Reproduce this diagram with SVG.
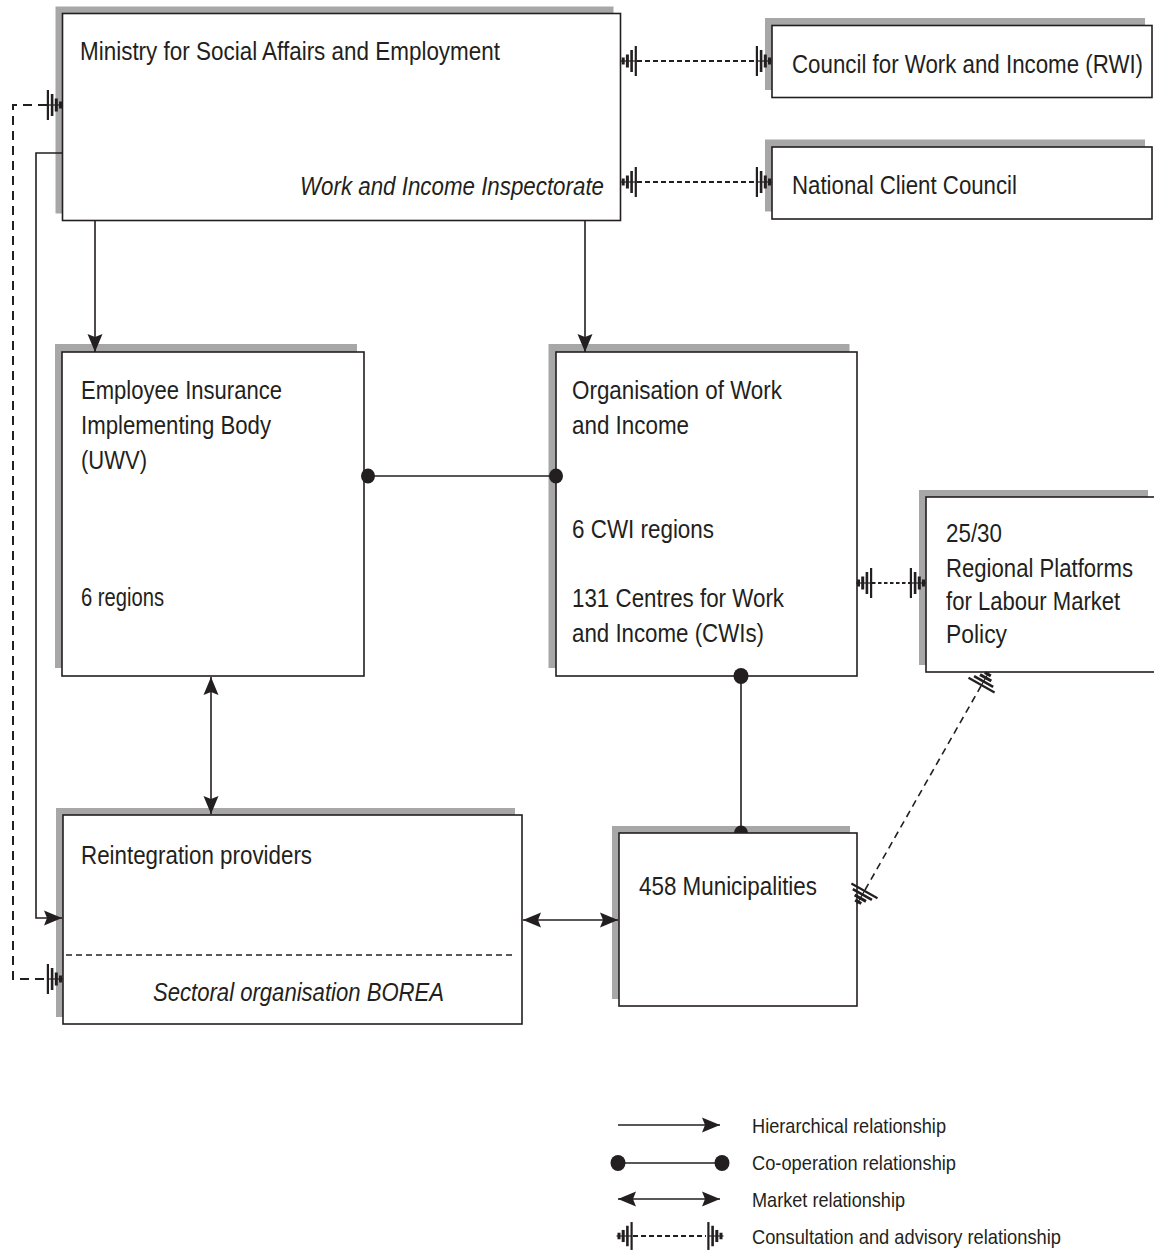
<svg xmlns="http://www.w3.org/2000/svg" xmlns:xlink="http://www.w3.org/1999/xlink" width="1154" height="1252" viewBox="0 0 1154 1252">
<style>
.shadow{fill:#a7a7a7;stroke:none}
.box{fill:#fff;stroke:#231f20;stroke-width:1.6}
.t{font-family:"Liberation Sans Narrow","Liberation Sans",Arial,sans-serif;font-size:26px;fill:#231f20}
.it{font-style:italic}
.lg{font-family:"Liberation Sans Narrow","Liberation Sans",Arial,sans-serif;font-size:21px;fill:#231f20}
.ln{fill:none;stroke:#231f20;stroke-width:1.6}
.dash{fill:none;stroke:#231f20;stroke-width:1.8;stroke-dasharray:5 3}
.dashL{fill:none;stroke:#231f20;stroke-width:2;stroke-dasharray:9 6}
.dashD{fill:none;stroke:#231f20;stroke-width:1.6;stroke-dasharray:7 5}
.dashS{fill:none;stroke:#231f20;stroke-width:1.8;stroke-dasharray:3.5 2.5}
.dashB{fill:none;stroke:#231f20;stroke-width:1.3;stroke-dasharray:6 4}
.dot{fill:#231f20}
</style>
<defs>
<marker id="arr" markerUnits="userSpaceOnUse" markerWidth="20" markerHeight="16" viewBox="-19 -8 20 16" refX="0" refY="0" orient="auto-start-reverse">
<path d="M0,0 L-18,-7.5 L-15,0 L-18,7.5 Z" fill="#231f20"/>
</marker>
<g id="cm" fill="#231f20">
<rect x="0" y="-0.6" width="15" height="1.2"/>
<rect x="1" y="-3.5" width="3" height="7"/>
<rect x="5.2" y="-6.5" width="3" height="13"/>
<rect x="9.6" y="-11" width="2.6" height="22"/>
<rect x="14" y="-15" width="2.2" height="30"/>
</g>
</defs>

<g id="ministry">
<rect class="shadow" x="55.5" y="6.5" width="558" height="207"/>
<rect class="box" x="62.5" y="13.5" width="558" height="207"/>
<text class="t" x="80" y="60" textLength="420" lengthAdjust="spacingAndGlyphs">Ministry for Social Affairs and Employment</text>
<text class="t it" x="300" y="195" textLength="304" lengthAdjust="spacingAndGlyphs">Work and Income Inspectorate</text>
</g>

<g id="rwi">
<rect class="shadow" x="765" y="18" width="380" height="72"/>
<rect class="box" x="772" y="25.5" width="380" height="72"/>
<text class="t" transform="translate(792,73) scale(0.85,1)" x="0" y="0" textLength="413" lengthAdjust="spacingAndGlyphs">Council for Work and Income (RWI)</text>
</g>

<g id="ncc">
<rect class="shadow" x="765" y="139.5" width="380" height="72"/>
<rect class="box" x="772" y="147" width="380" height="72"/>
<text class="t" x="792" y="194" textLength="225" lengthAdjust="spacingAndGlyphs">National Client Council</text>
</g>

<g id="uwv">
<rect class="shadow" x="55" y="344" width="302" height="324"/>
<rect class="box" x="62" y="352" width="302" height="324"/>
<text class="t" x="81" y="399" textLength="201" lengthAdjust="spacingAndGlyphs">Employee Insurance</text>
<text class="t" x="81" y="434" textLength="190" lengthAdjust="spacingAndGlyphs">Implementing Body</text>
<text class="t" x="81" y="469" textLength="66" lengthAdjust="spacingAndGlyphs">(UWV)</text>
<text class="t" x="81" y="606" textLength="83" lengthAdjust="spacingAndGlyphs">6 regions</text>
</g>

<g id="cwi">
<rect class="shadow" x="548.5" y="344" width="301" height="324"/>
<rect class="box" x="556" y="352" width="301" height="324"/>
<text class="t" x="572" y="399" textLength="210" lengthAdjust="spacingAndGlyphs">Organisation of Work</text>
<text class="t" x="572" y="434" textLength="117" lengthAdjust="spacingAndGlyphs">and Income</text>
<text class="t" x="572" y="538" textLength="142" lengthAdjust="spacingAndGlyphs">6 CWI regions</text>
<text class="t" x="572" y="607" textLength="212" lengthAdjust="spacingAndGlyphs">131 Centres for Work</text>
<text class="t" x="572" y="642" textLength="192" lengthAdjust="spacingAndGlyphs">and Income (CWIs)</text>
</g>

<g id="platforms">
<rect class="shadow" x="919" y="490" width="229" height="175"/>
<rect class="box" x="926" y="497" width="230" height="175"/>
<text class="t" x="946" y="542" textLength="56" lengthAdjust="spacingAndGlyphs">25/30</text>
<text class="t" transform="translate(946,577) scale(0.85,1)" x="0" y="0" textLength="220" lengthAdjust="spacingAndGlyphs">Regional Platforms</text>
<text class="t" transform="translate(946,610) scale(0.85,1)" x="0" y="0" textLength="205" lengthAdjust="spacingAndGlyphs">for Labour Market</text>
<text class="t" x="946" y="643" textLength="61" lengthAdjust="spacingAndGlyphs">Policy</text>
</g>

<g id="reintegration">
<rect class="shadow" x="56" y="808" width="459" height="209"/>
<rect class="box" x="63" y="815" width="459" height="209"/>
<text class="t" x="81" y="864" textLength="231" lengthAdjust="spacingAndGlyphs">Reintegration providers</text>
<line class="dashB" x1="66" y1="955" x2="515" y2="955"/>
<text class="t it" x="153" y="1001" textLength="291" lengthAdjust="spacingAndGlyphs">Sectoral organisation BOREA</text>
</g>

<g id="municipalities">
<rect class="shadow" x="612" y="826" width="238" height="173"/>
<rect class="box" x="619" y="833" width="238" height="173"/>
<text class="t" x="639" y="895" textLength="178" lengthAdjust="spacingAndGlyphs">458 Municipalities</text>
</g>

<g id="connectors">
<line class="ln" x1="95" y1="221" x2="95" y2="352" marker-end="url(#arr)"/>
<line class="ln" x1="585" y1="221" x2="585" y2="352" marker-end="url(#arr)"/>
<path class="ln" d="M63,153 H36 V918 H62" marker-end="url(#arr)"/>
<line class="ln" x1="211" y1="677" x2="211" y2="814" marker-start="url(#arr)" marker-end="url(#arr)"/>
<line class="ln" x1="523" y1="920" x2="618" y2="920" marker-start="url(#arr)" marker-end="url(#arr)"/>
<line class="ln" x1="366" y1="476" x2="556" y2="476"/>
<ellipse class="dot" cx="368" cy="476" rx="7" ry="7.5"/>
<ellipse class="dot" cx="556" cy="476" rx="7" ry="7.5"/>
<line class="ln" x1="741" y1="676" x2="741" y2="833"/>
<ellipse class="dot" cx="741" cy="676" rx="7.5" ry="8"/>
<path class="dot" d="M734,833 A7,7.5 0 0 1 748,833 Z"/>
<line class="dash" x1="637" y1="61" x2="755" y2="61"/>
<use xlink:href="#cm" transform="translate(620.7,61)"/>
<use xlink:href="#cm" transform="translate(772,61) scale(-1,1)"/>
<line class="dash" x1="637" y1="182" x2="755" y2="182"/>
<use xlink:href="#cm" transform="translate(620.7,182)"/>
<use xlink:href="#cm" transform="translate(772,182) scale(-1,1)"/>
<path class="dashL" d="M47,105 H13 V979 H47"/>
<use xlink:href="#cm" transform="translate(63,105) scale(-1,1)"/>
<use xlink:href="#cm" transform="translate(63,979) scale(-1,1)"/>
<line class="dashS" x1="872" y1="583" x2="910" y2="583"/>
<use xlink:href="#cm" transform="translate(856,583)"/>
<use xlink:href="#cm" transform="translate(926,583) scale(-1,1)"/>
<line class="dashD" x1="865" y1="890" x2="981" y2="686"/>
<use xlink:href="#cm" transform="translate(989,672) rotate(119.6)"/>
<use xlink:href="#cm" transform="translate(857,904) rotate(-60.4)"/>
</g>

<g id="legend">
<line class="ln" x1="618" y1="1125" x2="720" y2="1125" marker-end="url(#arr)"/>
<text class="lg" x="752" y="1133" textLength="194" lengthAdjust="spacingAndGlyphs">Hierarchical relationship</text>
<line class="ln" x1="618" y1="1163" x2="722" y2="1163"/>
<ellipse class="dot" cx="618" cy="1163" rx="7.5" ry="8"/>
<ellipse class="dot" cx="722" cy="1163" rx="7.5" ry="8"/>
<text class="lg" x="752" y="1170" textLength="204" lengthAdjust="spacingAndGlyphs">Co-operation relationship</text>
<line class="ln" x1="618" y1="1199" x2="720" y2="1199" marker-start="url(#arr)" marker-end="url(#arr)"/>
<text class="lg" x="752" y="1207" textLength="153" lengthAdjust="spacingAndGlyphs">Market relationship</text>
<line class="dash" x1="633" y1="1236" x2="706" y2="1236"/>
<use xlink:href="#cm" transform="translate(616.5,1236) scale(1,0.93)"/>
<use xlink:href="#cm" transform="translate(723.5,1236) scale(-1,0.93)"/>
<text class="lg" x="752" y="1244" textLength="309" lengthAdjust="spacingAndGlyphs">Consultation and advisory relationship</text>
</g>
</svg>
